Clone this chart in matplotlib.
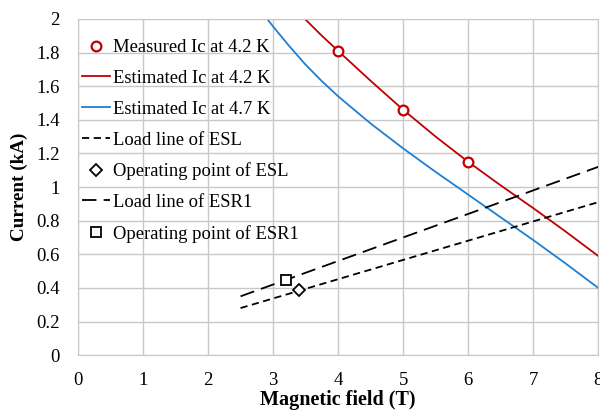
import matplotlib
matplotlib.use("Agg")
from matplotlib import pyplot as plt
from matplotlib.ticker import FuncFormatter, MultipleLocator

plt.rcParams['font.family'] = ['Liberation Serif', 'DejaVu Serif']

# measured critical current at 4.2 K
meas_b = [4, 5, 6]
meas_ic = [1.81, 1.46, 1.15]

# estimated Ic curves
est42_b = [3.49, 3.75, 4, 4.5, 5, 5.5, 6, 6.5, 7, 7.5, 8]
est42_ic = [2.0, 1.90, 1.81, 1.632, 1.46, 1.30, 1.15, 1.01, 0.875, 0.735, 0.59]
est47_b = [2.91, 3.0, 3.25, 3.5, 3.75, 4, 4.5, 5, 5.5, 6, 6.5, 7, 7.5, 8]
est47_ic = [2.0, 1.955, 1.838, 1.728, 1.63, 1.54, 1.378, 1.23, 1.09, 0.955, 0.82, 0.685, 0.545, 0.40]

# load lines and operating points
esl_b = [2.5, 8]
esl_i = [0.28, 0.91]
esl_op = (3.4, 0.385)
esr1_b = [2.5, 8]
esr1_i = [0.35, 1.12]
esr1_op = (3.2, 0.446)

fig = plt.figure(figsize=(6, 4.12), dpi=100)
ax = fig.add_axes([0.13, 0.138, 0.867, 0.816])

ax.plot(meas_b, meas_ic, 'o', mfc='white', mec='#c00000', mew=1.6, ms=7,
        ls='none', label='Measured Ic at 4.2 K', zorder=5)
ax.plot(est42_b, est42_ic, color='#c00000', lw=1.3, label='Estimated Ic at 4.2 K')
ax.plot(est47_b, est47_ic, color='#1f7fd0', lw=1.3, label='Estimated Ic at 4.7 K')
ax.plot(esl_b, esl_i, color='black', lw=1.3, ls=(0, (4, 2.5)), label='Load line of ESL')
ax.plot(*esl_op, 'D', mfc='white', mec='black', mew=1.3, ms=6, ls='none',
        label='Operating point of ESL', zorder=5)
ax.plot(esr1_b, esr1_i, color='black', lw=1.3, ls=(0, (8, 4)), label='Load line of ESR1')
ax.plot(*esr1_op, 's', mfc='white', mec='black', mew=1.3, ms=7, ls='none',
        label='Operating point of ESR1', zorder=5)

ax.set_xlim(0, 8)
ax.set_ylim(0, 2)
ax.xaxis.set_major_locator(MultipleLocator(1))
ax.yaxis.set_major_locator(MultipleLocator(0.2))
ax.yaxis.set_major_formatter(FuncFormatter(lambda v, p: f'{v:g}'))
ax.grid(True, color='#c8c8c8', lw=1)
ax.set_axisbelow(True)
ax.tick_params(length=0, labelsize=13.5)
ax.tick_params(axis='x', pad=12)
ax.tick_params(axis='y', pad=13)
for s in ax.spines.values():
    s.set_color('#c8c8c8')

ax.set_xlabel('Magnetic field (T)', fontsize=14.5, fontweight='bold', labelpad=1)
ax.set_ylabel('Current (kA)', fontsize=13.8, fontweight='bold', labelpad=6)

ax.legend(loc='upper left', frameon=False, fontsize=13.4, handlelength=1.5,
          handletextpad=0.15, labelspacing=0.74, borderpad=0, borderaxespad=0,
          bbox_to_anchor=(0.008, 0.94))

fig.savefig('out.png', dpi=100)
